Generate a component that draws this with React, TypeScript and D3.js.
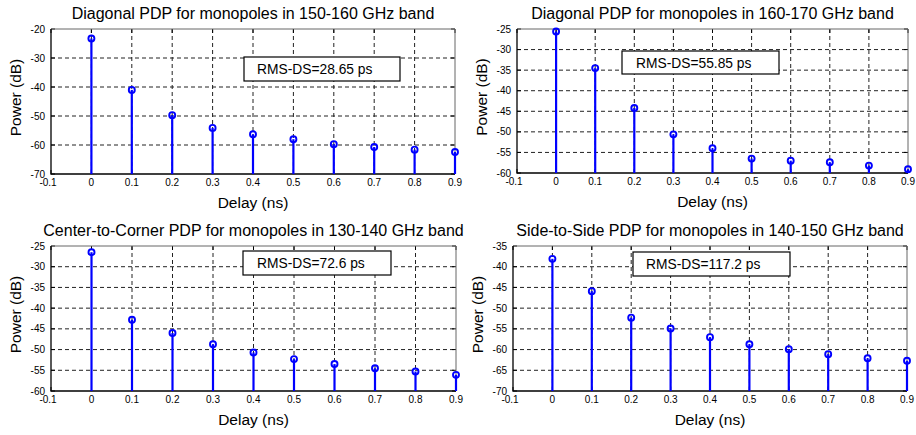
import * as d3 from 'd3';

// delay bins (ns) shared by every panel
const delays = [0, 0.1, 0.2, 0.3, 0.4, 0.5, 0.6, 0.7, 0.8, 0.9];
const xTicks = [-0.1, 0, 0.1, 0.2, 0.3, 0.4, 0.5, 0.6, 0.7, 0.8, 0.9];

// power (dB)
const diag150 = [-23.3, -41, -49.7, -54.1, -56.3, -58, -59.7, -60.7, -61.6, -62.4];
const diag160 = [-25.6, -34.5, -44.2, -50.6, -54, -56.5, -57, -57.4, -58.2, -59.1];
const corner130 = [-26.5, -42.8, -46, -48.7, -50.7, -52.3, -53.5, -54.5, -55.3, -56.1];
const side140 = [-38.1, -45.9, -52.3, -54.9, -57, -58.7, -59.9, -61.1, -62.1, -62.7];

const yTicks150 = [-70, -60, -50, -40, -30, -20];
const yTicks160 = [-60, -55, -50, -45, -40, -35, -30, -25];
const yTicks130 = [-60, -55, -50, -45, -40, -35, -30, -25];
const yTicks140 = [-70, -65, -60, -55, -50, -45, -40, -35];

const titles = [
  'Diagonal PDP for monopoles in 150-160 GHz band',
  'Diagonal PDP for monopoles in 160-170 GHz band',
  'Center-to-Corner PDP for monopoles in 130-140 GHz band',
  'Side-to-Side PDP for monopoles in 140-150 GHz band',
];
const rmsLabels = ['RMS-DS=28.65 ps', 'RMS-DS=55.85 ps', 'RMS-DS=72.6 ps', 'RMS-DS=117.2 ps'];

// layout (pixels): plot frame and the text box of each panel
const frames = [
  { left: 51, top: 29, right: 455, bottom: 174 },
  { left: 517, top: 29, right: 908, bottom: 173 },
  { left: 51, top: 246, right: 456, bottom: 391 },
  { left: 513, top: 246, right: 907, bottom: 391 },
];
const boxes = [
  { x: 244, y: 57, w: 156, h: 24, tx: 257 },
  { x: 622, y: 51, w: 157, h: 23, tx: 636 },
  { x: 243, y: 251, w: 148, h: 24, tx: 257 },
  { x: 633, y: 252, w: 157, h: 24, tx: 646 },
];

const font = '"Liberation Sans", Arial, Helvetica, sans-serif';
const blue = '#0000ff';
const fmt = (v: number) => String(+v.toFixed(1));

const Panel = ({ i, values, yTicks }: { i: number; values: number[]; yTicks: number[] }) => {
  const f = frames[i];
  const b = boxes[i];
  const x = d3.scaleLinear().domain([-0.1, 0.9]).range([f.left, f.right]);
  const y = d3
    .scaleLinear()
    .domain([yTicks[0], yTicks[yTicks.length - 1]])
    .range([f.bottom, f.top]);
  const cx = (f.left + f.right) / 2;
  const cy = (f.top + f.bottom) / 2;

  return (
    <g>
      <rect x={f.left} y={f.top} width={f.right - f.left} height={f.bottom - f.top} fill="#fff" />
      {/* dashed grid */}
      {xTicks.slice(1, -1).map((t) => (
        <line key={'gx' + t} x1={x(t)} x2={x(t)} y1={f.top} y2={f.bottom}
          stroke="#222" strokeWidth={1} strokeDasharray="4,3" />
      ))}
      {yTicks.slice(1, -1).map((t) => (
        <line key={'gy' + t} x1={f.left} x2={f.right} y1={y(t)} y2={y(t)}
          stroke="#222" strokeWidth={1} strokeDasharray="4,3" />
      ))}
      {/* inward ticks */}
      {xTicks.map((t) => (
        <g key={'tx' + t}>
          <line x1={x(t)} x2={x(t)} y1={f.bottom} y2={f.bottom - 4} stroke="#000" />
          <line x1={x(t)} x2={x(t)} y1={f.top} y2={f.top + 4} stroke="#000" />
          <text x={x(t) - (t < 0 ? 3 : 0)} y={f.bottom + 12} fontSize={10} textAnchor="middle" fontFamily={font}>
            {fmt(t)}
          </text>
        </g>
      ))}
      {yTicks.map((t) => (
        <g key={'ty' + t}>
          <line x1={f.left} x2={f.left + 4} y1={y(t)} y2={y(t)} stroke="#000" />
          <line x1={f.right} x2={f.right - 4} y1={y(t)} y2={y(t)} stroke="#000" />
          <text x={f.left - 6} y={y(t) + 3.5} fontSize={10} textAnchor="end" fontFamily={font}>
            {fmt(t)}
          </text>
        </g>
      ))}
      {/* frame */}
      <path d={`M${f.left},${f.top}H${f.right}V${f.bottom}`} fill="none" stroke="#666" strokeWidth={1} />
      <path d={`M${f.left},${f.top}V${f.bottom}H${f.right}`} fill="none" stroke="#000" strokeWidth={1.3} />
      {/* stems */}
      {values.map((v, k) => (
        <g key={'s' + k}>
          <line x1={x(delays[k])} x2={x(delays[k])} y1={f.bottom} y2={y(v)} stroke={blue} strokeWidth={2.2} />
          <circle cx={x(delays[k])} cy={y(v)} r={3} fill="none" stroke={blue} strokeWidth={1.9} />
        </g>
      ))}
      {/* RMS text box */}
      <rect x={b.x} y={b.y} width={b.w} height={b.h} fill="#fff" stroke="#000" strokeWidth={1.2} />
      <text x={b.tx} y={b.y + b.h / 2 + 5} fontSize={13.8} fontFamily={font}>
        {rmsLabels[i]}
      </text>
      {/* titles and axis labels */}
      <text x={cx} y={f.top - 10.5} fontSize={16} textAnchor="middle" fontFamily={font}>
        {titles[i]}
      </text>
      <text x={cx} y={f.bottom + 33.5} fontSize={15.5} textAnchor="middle" fontFamily={font}>
        Delay (ns)
      </text>
      <text transform={`translate(${f.left - 30.5},${cy - 4}) rotate(-90)`} fontSize={15.5}
        textAnchor="middle" fontFamily={font}>
        Power (dB)
      </text>
    </g>
  );
};

export default function App() {
  return (
    <svg width={916} height={435} style={{ position: 'absolute', left: 0, top: 0, background: '#fff' }}>
      <rect width={916} height={435} fill="#fff" />
      <Panel i={0} values={diag150} yTicks={yTicks150} />
      <Panel i={1} values={diag160} yTicks={yTicks160} />
      <Panel i={2} values={corner130} yTicks={yTicks130} />
      <Panel i={3} values={side140} yTicks={yTicks140} />
    </svg>
  );
}
